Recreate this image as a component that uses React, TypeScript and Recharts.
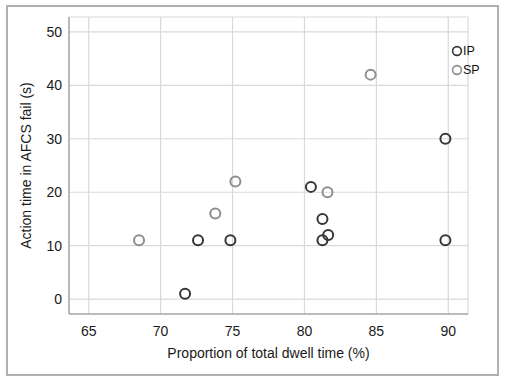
import { CartesianGrid, Legend, Scatter, ScatterChart, XAxis, YAxis } from "recharts";

const ipX = [71.7, 72.6, 74.85, 80.45, 81.25, 81.25, 81.65, 89.8, 89.8];
const ipY = [1, 11, 11, 21, 15, 11, 12, 30, 11];
const spX = [68.5, 73.8, 75.2, 81.6, 84.6];
const spY = [11, 16, 22, 20, 42];

const xTicks = [65, 70, 75, 80, 85, 90];
const yTicks = [0, 10, 20, 30, 40, 50];

const ipData = ipX.map((x, i) => ({ x, y: ipY[i] }));
const spData = spX.map((x, i) => ({ x, y: spY[i] }));

const FONT = '"Liberation Sans", Arial, sans-serif';
const IP_COLOR = "#363636";
const SP_COLOR = "#8e8e8e";

const ring = (color: string) => (props: any) =>
  <circle cx={props.cx} cy={props.cy} r={5} fill="none" stroke={color} strokeWidth={2} />;

function LegendBox() {
  const items = [
    { name: "IP", color: IP_COLOR },
    { name: "SP", color: SP_COLOR },
  ];
  return (
    <div style={{ fontFamily: FONT, fontSize: 12.5, color: "#111" }}>
      {items.map((it) => (
        <div key={it.name} style={{ display: "flex", alignItems: "center", height: 19 }}>
          <svg width={12} height={12}>
            <circle cx={6} cy={6} r={4.4} fill="none" stroke={it.color} strokeWidth={1.6} />
          </svg>
          <span style={{ marginLeft: 0 }}>{it.name}</span>
        </div>
      ))}
    </div>
  );
}

export default function App() {
  return (
    <div style={{ position: "absolute", left: 0, top: 0, width: 505, height: 385, background: "#fff" }}>
      <div
        style={{
          position: "absolute",
          left: 6,
          top: 5,
          width: 489,
          height: 367,
          border: "2px solid #b0b0b0",
        }}
      />
      <ScatterChart
        width={505}
        height={385}
        margin={{ top: 17, right: 37, bottom: 0, left: 0 }}
        style={{ fontFamily: FONT }}
      >
        <CartesianGrid stroke="#d9d9d9" strokeWidth={1.2} />
        <XAxis
          type="number"
          dataKey="x"
          domain={[63.63, 91.37]}
          ticks={xTicks}
          allowDataOverflow
          height={71}
          tickLine={false}
          tickSize={6}
          tickMargin={6}
          stroke="#8a8a8a"
          tick={{ fill: "#1a1a1a", fontSize: 14 }}
          label={{
            value: "Proportion of total dwell time (%)",
            position: "insideBottom",
            offset: 27,
            fill: "#1a1a1a",
            fontSize: 14,
          }}
        />
        <YAxis
          type="number"
          dataKey="y"
          domain={[-2.78, 52.78]}
          ticks={yTicks}
          allowDataOverflow
          width={69}
          tickLine={false}
          tickSize={5}
          tickMargin={2}
          stroke="#8a8a8a"
          tick={{ fill: "#1a1a1a", fontSize: 14 }}
          label={{
            value: "Action time in AFCS fail (s)",
            angle: -90,
            position: "insideLeft",
            offset: 26,
            fill: "#1a1a1a",
            fontSize: 14,
            style: { textAnchor: "middle" },
          }}
        />
        <Legend
          content={<LegendBox />}
          layout="vertical"
          verticalAlign="middle"
          align="center"
          wrapperStyle={{ position: "absolute", left: 451, top: 41.5, width: 50 }}
        />
        <Scatter name="IP" data={ipData} shape={ring(IP_COLOR)} isAnimationActive={false} />
        <Scatter name="SP" data={spData} shape={ring(SP_COLOR)} isAnimationActive={false} />
      </ScatterChart>
    </div>
  );
}
